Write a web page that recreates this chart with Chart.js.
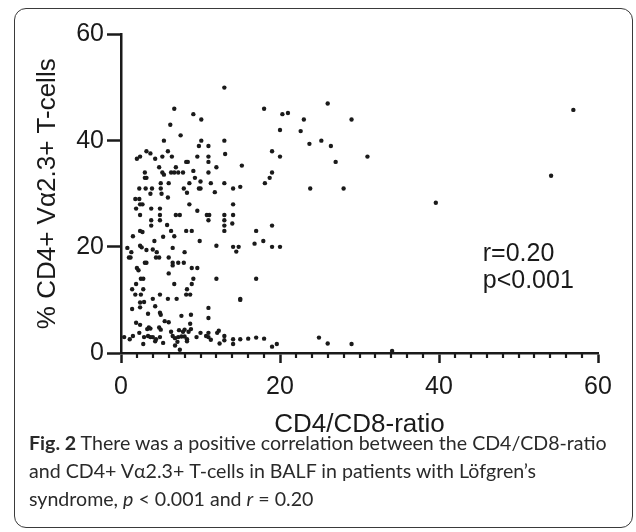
<!DOCTYPE html>
<html>
<head>
<meta charset="utf-8">
<script src="https://cdn.jsdelivr.net/npm/chart.js@4.4.1/dist/chart.umd.min.js"></script>
<style>
  html, body { margin: 0; padding: 0; background: #fff; }
  #wrap { position: relative; width: 636px; height: 532px; overflow: hidden; }
  #frame {
    position: absolute; left: 14px; top: 8px; width: 619px; height: 520px;
    border: 1.5px solid #3a3a3a; border-radius: 12px; box-sizing: border-box;
  }
  canvas { position: absolute; left: 0; top: 0; }
  #caption {
    position: absolute; left: 29px; top: 429px; width: 600px; white-space: nowrap;
    font-family: Lato, "Open Sans", sans-serif; font-size: 19.6px; line-height: 28px; color: #2a2a2a;
  }
  #caption b { font-weight: 700; }
</style>
</head>
<body>
<div id="wrap">
  <div id="frame"></div>
  <canvas id="chart" width="636" height="532"></canvas>
  <div id="caption"><b>Fig. 2</b> There was a positive correlation between the CD4/CD8-ratio<br>and CD4+ Vα2.3+ T-cells in BALF in patients with Löfgren’s<br>syndrome, <i>p</i> &lt; 0.001 and <i>r</i> = 0.20</div>
</div>
<script>
// CD4/CD8-ratio (x) and % CD4+ Va2.3+ T-cells (y)
const ratio = [
  13.0, 6.7, 9.1, 10.1, 6.2, 7.5, 5.4, 13.0, 10.1, 9.8, 11.0, 2.0, 2.4, 3.2, 3.7, 4.3, 5.2, 5.9, 6.4, 9.6,
  11.0, 13.1, 8.2, 8.4, 11.0, 4.8, 6.9, 12.0, 3.0, 5.2, 5.4, 6.3, 6.7, 7.2, 7.8, 9.1, 11.0, 3.0, 3.2, 9.3,
  5.0, 6.0, 8.6, 10.0, 11.3, 13.0,
  2.3, 3.1, 3.9, 5.0, 7.9, 9.8, 10.0, 14.1, 8.3, 11.8, 3.7, 5.1,
  1.8, 2.3, 5.9, 2.4, 2.7, 8.6, 14.1, 1.9, 3.8, 4.9, 9.6,
  2.4, 4.9, 6.9, 7.4, 10.8, 11.1, 13.0, 14.1, 3.8, 4.9, 11.0, 13.0,
  3.8, 5.8, 13.0, 14.0, 2.4, 2.7, 6.3, 8.2, 8.9, 13.0, 1.5, 5.3, 6.7, 4.2, 9.9,
  2.4, 2.6, 12.0, 14.1, 14.5, 14.8, 3.2, 4.0, 4.5, 6.5, 8.0, 1.3, 0.8,
  1.0, 1.2, 4.4, 4.8, 6.0, 3.0, 3.2, 6.5, 7.2, 7.9, 2.0, 2.2, 6.5, 8.9, 9.6, 6.0,
  2.5, 2.8, 9.1, 12.0, 1.9, 6.7, 8.9, 1.4, 2.8, 8.3, 1.8, 2.5, 4.9, 8.2, 8.7,
  4.0, 5.9, 7.0, 15.0, 2.4, 2.9, 1.4, 2.4, 4.3, 11.0,
  3.4, 4.9, 5.0, 8.8, 7.6, 11.0, 5.5, 6.0, 1.9, 2.4, 8.7,
  3.5, 3.7, 3.3, 4.8, 5.0, 7.3, 8.0, 8.8, 12.3, 12.1, 2.3, 6.3, 7.8, 8.5, 10.0, 11.0,
  0.4, 1.1, 1.5, 2.9, 3.4, 3.7, 4.0, 4.4, 4.9, 6.5, 6.8, 7.2, 7.6, 8.0, 8.3, 11.0, 13.0, 13.0,
  2.8, 4.3, 5.3, 7.1, 6.8, 7.4, 8.3, 9.5, 10.7, 12.4, 11.3,
  26.0, 18.0, 20.3, 21.0, 23.0, 29.0, 20.0, 22.6, 25.2, 23.7, 26.4, 19.0, 20.0, 31.0, 27.0, 15.2,
  19.0, 18.7, 18.1, 15.0, 23.8, 28.0, 17.0, 19.0, 16.8, 17.9, 19.0, 20.0, 17.0, 15.0,
  14.1, 14.1, 15.0, 16.0, 17.0, 18.0, 19.0, 19.6, 24.9, 26.0, 29.0, 34.1,
  56.9, 54.1, 39.6
];
const pctCells = [
  50.0, 46.0, 45.0, 44.0, 43.0, 41.0, 40.0, 40.0, 40.0, 39.0, 39.0, 36.6, 37.0, 38.0, 37.6, 36.6, 37.0, 38.0, 37.0, 37.0,
  37.0, 37.5, 36.0, 36.0, 36.0, 35.0, 35.0, 35.0, 34.0, 34.0, 33.6, 34.0, 34.0, 34.0, 34.0, 34.3, 34.0, 33.0, 33.0, 33.0,
  32.0, 32.0, 32.0, 32.3, 32.0, 32.0,
  31.0, 31.0, 31.0, 31.0, 31.0, 31.0, 31.0, 31.0, 30.2, 30.3, 30.0, 30.0,
  29.0, 29.0, 29.3, 28.0, 28.0, 28.0, 28.0, 27.2, 27.2, 27.2, 26.8,
  26.0, 26.0, 26.0, 26.0, 26.0, 26.0, 26.0, 26.0, 25.0, 25.0, 25.0, 25.0,
  24.0, 24.1, 24.0, 24.4, 23.0, 22.8, 23.0, 23.0, 23.0, 23.0, 22.0, 21.9, 22.0, 21.1, 21.1,
  20.2, 19.9, 20.2, 20.0, 19.1, 20.0, 19.4, 19.5, 19.0, 19.8, 19.0, 19.0, 19.8,
  18.0, 18.0, 18.0, 18.0, 18.0, 17.0, 17.0, 17.0, 17.0, 17.0, 16.0, 15.6, 16.5, 16.0, 16.0, 15.0,
  14.0, 14.0, 14.0, 14.0, 13.0, 13.0, 13.0, 12.0, 12.0, 12.0, 11.0, 11.0, 11.0, 11.0, 11.0,
  10.2, 10.2, 10.2, 10.2, 9.5, 9.6, 8.3, 8.6, 8.8, 8.5,
  7.4, 7.6, 7.2, 7.2, 7.0, 6.6, 6.0, 5.8, 5.7, 5.3, 5.5,
  4.8, 4.6, 4.5, 4.8, 4.4, 4.3, 4.4, 4.5, 4.2, 3.8, 3.8, 4.0, 4.0, 4.0, 3.8, 3.8,
  3.0, 2.6, 3.2, 3.0, 3.2, 3.0, 3.0, 2.6, 3.0, 3.2, 2.8, 3.0, 3.1, 3.1, 2.6, 3.0, 3.2, 2.4,
  1.7, 2.2, 1.9, 2.1, 1.4, 0.6, 2.2, 3.0, 3.2, 1.8, 2.5,
  47.0, 46.0, 45.0, 45.2, 44.0, 44.0, 42.0, 41.8, 40.0, 39.4, 39.0, 38.0, 37.0, 37.0, 36.0, 35.3,
  34.0, 33.0, 32.0, 31.3, 31.0, 31.0, 23.0, 24.0, 20.6, 21.1, 20.0, 20.0, 14.0, 10.0,
  2.6, 1.7, 2.6, 2.7, 2.9, 2.7, 1.2, 1.7, 2.9, 1.8, 1.7, 0.4,
  45.8, 33.4, 28.3
];
const xTicks = [0, 20, 40, 60];
const yTicks = [0, 20, 40, 60];
const statLines = ["r=0.20", "p<0.001"];

const ink = "#1a1a1a";
const tickFont = { family: "'Liberation Sans', Arial, sans-serif", size: 25 };
const titleFont = { family: "'Liberation Sans', Arial, sans-serif", size: 26 };

const minorTicks = {
  id: "minorTicks",
  afterDraw(chart) {
    const { ctx, scales: { x }, chartArea } = chart;
    ctx.save();
    ctx.strokeStyle = ink;
    ctx.lineWidth = 2.2;
    for (let v = 2; v < 60; v += 2) {
      if (v % 20 === 0) continue;
      const px = Math.round(x.getPixelForValue(v));
      ctx.beginPath();
      ctx.moveTo(px, chartArea.bottom);
      ctx.lineTo(px, chartArea.bottom + 5);
      ctx.stroke();
    }
    ctx.restore();
  }
};

const statText = {
  id: "statText",
  afterDraw(chart) {
    const { ctx, scales: { x, y } } = chart;
    ctx.save();
    ctx.fillStyle = ink;
    ctx.font = "25px 'Liberation Sans', Arial, sans-serif";
    ctx.textBaseline = "alphabetic";
    const left = x.getPixelForValue(45.5);
    ctx.fillText(statLines[0], left, y.getPixelForValue(17.4));
    ctx.fillText(statLines[1], left, y.getPixelForValue(12.3));
    ctx.restore();
  }
};

new Chart(document.getElementById("chart"), {
  type: "scatter",
  data: {
    datasets: [{
      data: ratio.map((r, i) => ({ x: r, y: pctCells[i] })),
      backgroundColor: ink,
      borderWidth: 0,
      pointRadius: 2.2,
      clip: false
    }]
  },
  options: {
    responsive: false,
    animation: false,
    devicePixelRatio: 1,
    layout: { padding: { left: 0, top: 34.5, right: 38, bottom: 79 } },
    plugins: { legend: { display: false }, tooltip: { enabled: false } },
    scales: {
      x: {
        type: "linear", min: 0, max: 60,
        afterBuildTicks(s) { s.ticks = xTicks.map(v => ({ value: v })) },
        afterFit(s) { s.height = 100 },
        ticks: { font: tickFont, color: ink, padding: 9, maxRotation: 0 },
        grid: { drawOnChartArea: false, drawTicks: true, tickLength: 10, tickWidth: 2.5, tickColor: ink },
        border: { display: true, width: 2.5, color: ink },
        title: { display: true, text: "CD4/CD8-ratio", font: titleFont, color: ink, padding: { top: 0, bottom: 13 } }
      },
      y: {
        type: "linear", min: 0, max: 60,
        afterBuildTicks(s) { s.ticks = yTicks.map(v => ({ value: v })) },
        afterFit(s) { s.width = 121 },
        ticks: { font: tickFont, color: ink, padding: 3 },
        grid: { drawOnChartArea: false, drawTicks: true, tickLength: 14, tickWidth: 2.5, tickColor: ink },
        border: { display: true, width: 2.5, color: ink },
        title: { display: true, text: "% CD4+ Vα2.3+ T-cells", font: titleFont, color: ink, padding: { top: 32, bottom: 0 } }
      }
    }
  },
  plugins: [minorTicks, statText]
});
</script>
</body>
</html>
